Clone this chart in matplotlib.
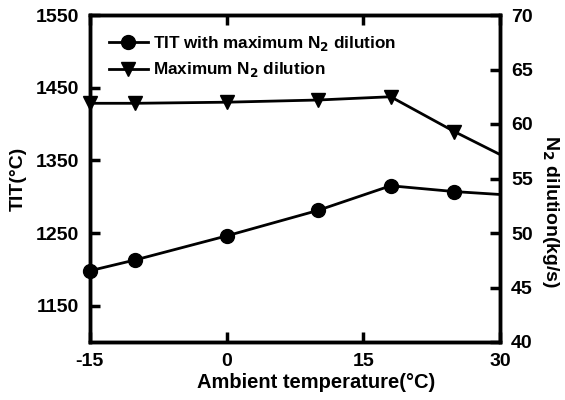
import matplotlib
matplotlib.use("Agg")
import matplotlib.pyplot as plt

plt.rcParams['font.family'] = ['Liberation Sans', 'DejaVu Sans']
plt.rcParams['font.weight'] = 'bold'
plt.rcParams['mathtext.default'] = 'bf'
plt.rcParams['axes.unicode_minus'] = False

ambient = [-15, -10, 0, 10, 18, 25, 30]
tit = [1198, 1213, 1246, 1281, 1315, 1307, 1303]
n2 = [61.9, 61.9, 62.0, 62.2, 62.5, 59.3, 57.2]

xticks = [-15, 0, 15, 30]
yticks_left = [1150, 1250, 1350, 1450, 1550]
yticks_right = [40, 45, 50, 55, 60, 65, 70]

fig = plt.figure(figsize=(5.65, 4.0), dpi=100)
ax = fig.add_axes([0.159, 0.145, 0.726, 0.8175])
ax2 = ax.twinx()

l1, = ax.plot(ambient, tit, color='black', lw=2, marker='o', ms=10,
              markevery=list(range(len(ambient) - 1)), clip_on=False,
              label='TIT with maximum N$_2$ dilution')
l2, = ax2.plot(ambient, n2, color='black', lw=2, marker='v', ms=10,
               markevery=list(range(len(ambient) - 1)), clip_on=False,
               label='Maximum N$_2$ dilution')

ax.set_xlim(-15, 30)
ax.set_ylim(1100, 1550)
ax2.set_ylim(40, 70)
tfont = {'fontweight': 'bold', 'fontsize': 14}
ax.set_xticks(xticks)
ax.set_xticklabels([str(v) for v in xticks], **tfont)
ax.set_yticks(yticks_left)
ax.set_yticklabels([str(v) for v in yticks_left], **tfont)
ax2.set_yticks(yticks_right)
ax2.set_yticklabels([str(v) for v in yticks_right], **tfont)

for a in (ax, ax2):
    for s in a.spines.values():
        s.set_linewidth(2.5)
    a.tick_params(direction='in', length=7, width=2.5, pad=6)
ax.tick_params(axis='x', top=True, pad=8)
ax.tick_params(axis='y', right=False, pad=8)
ax2.tick_params(axis='y', pad=8)

ax.set_xlabel('Ambient temperature(°C)', fontsize=14.5, fontweight='bold', labelpad=2)
ax.xaxis.label.set_x(0.551)
ax.set_ylabel('TIT(°C)', fontsize=14, fontweight='bold', labelpad=6)
ax2.set_ylabel('N$_2$ dilution(kg/s)', fontsize=14, fontweight='bold',
               rotation=270, labelpad=20)
ax2.yaxis.label.set_y(0.40)

ax.legend(handles=[l1, l2], loc='upper left', frameon=False,
          handlelength=2.3, handletextpad=0.3, borderaxespad=0.7,
          labelspacing=0.45, prop={'weight': 'bold', 'size': 12.3},
          bbox_to_anchor=(0.0, 1.0))

fig.savefig('out.png', dpi=100)
